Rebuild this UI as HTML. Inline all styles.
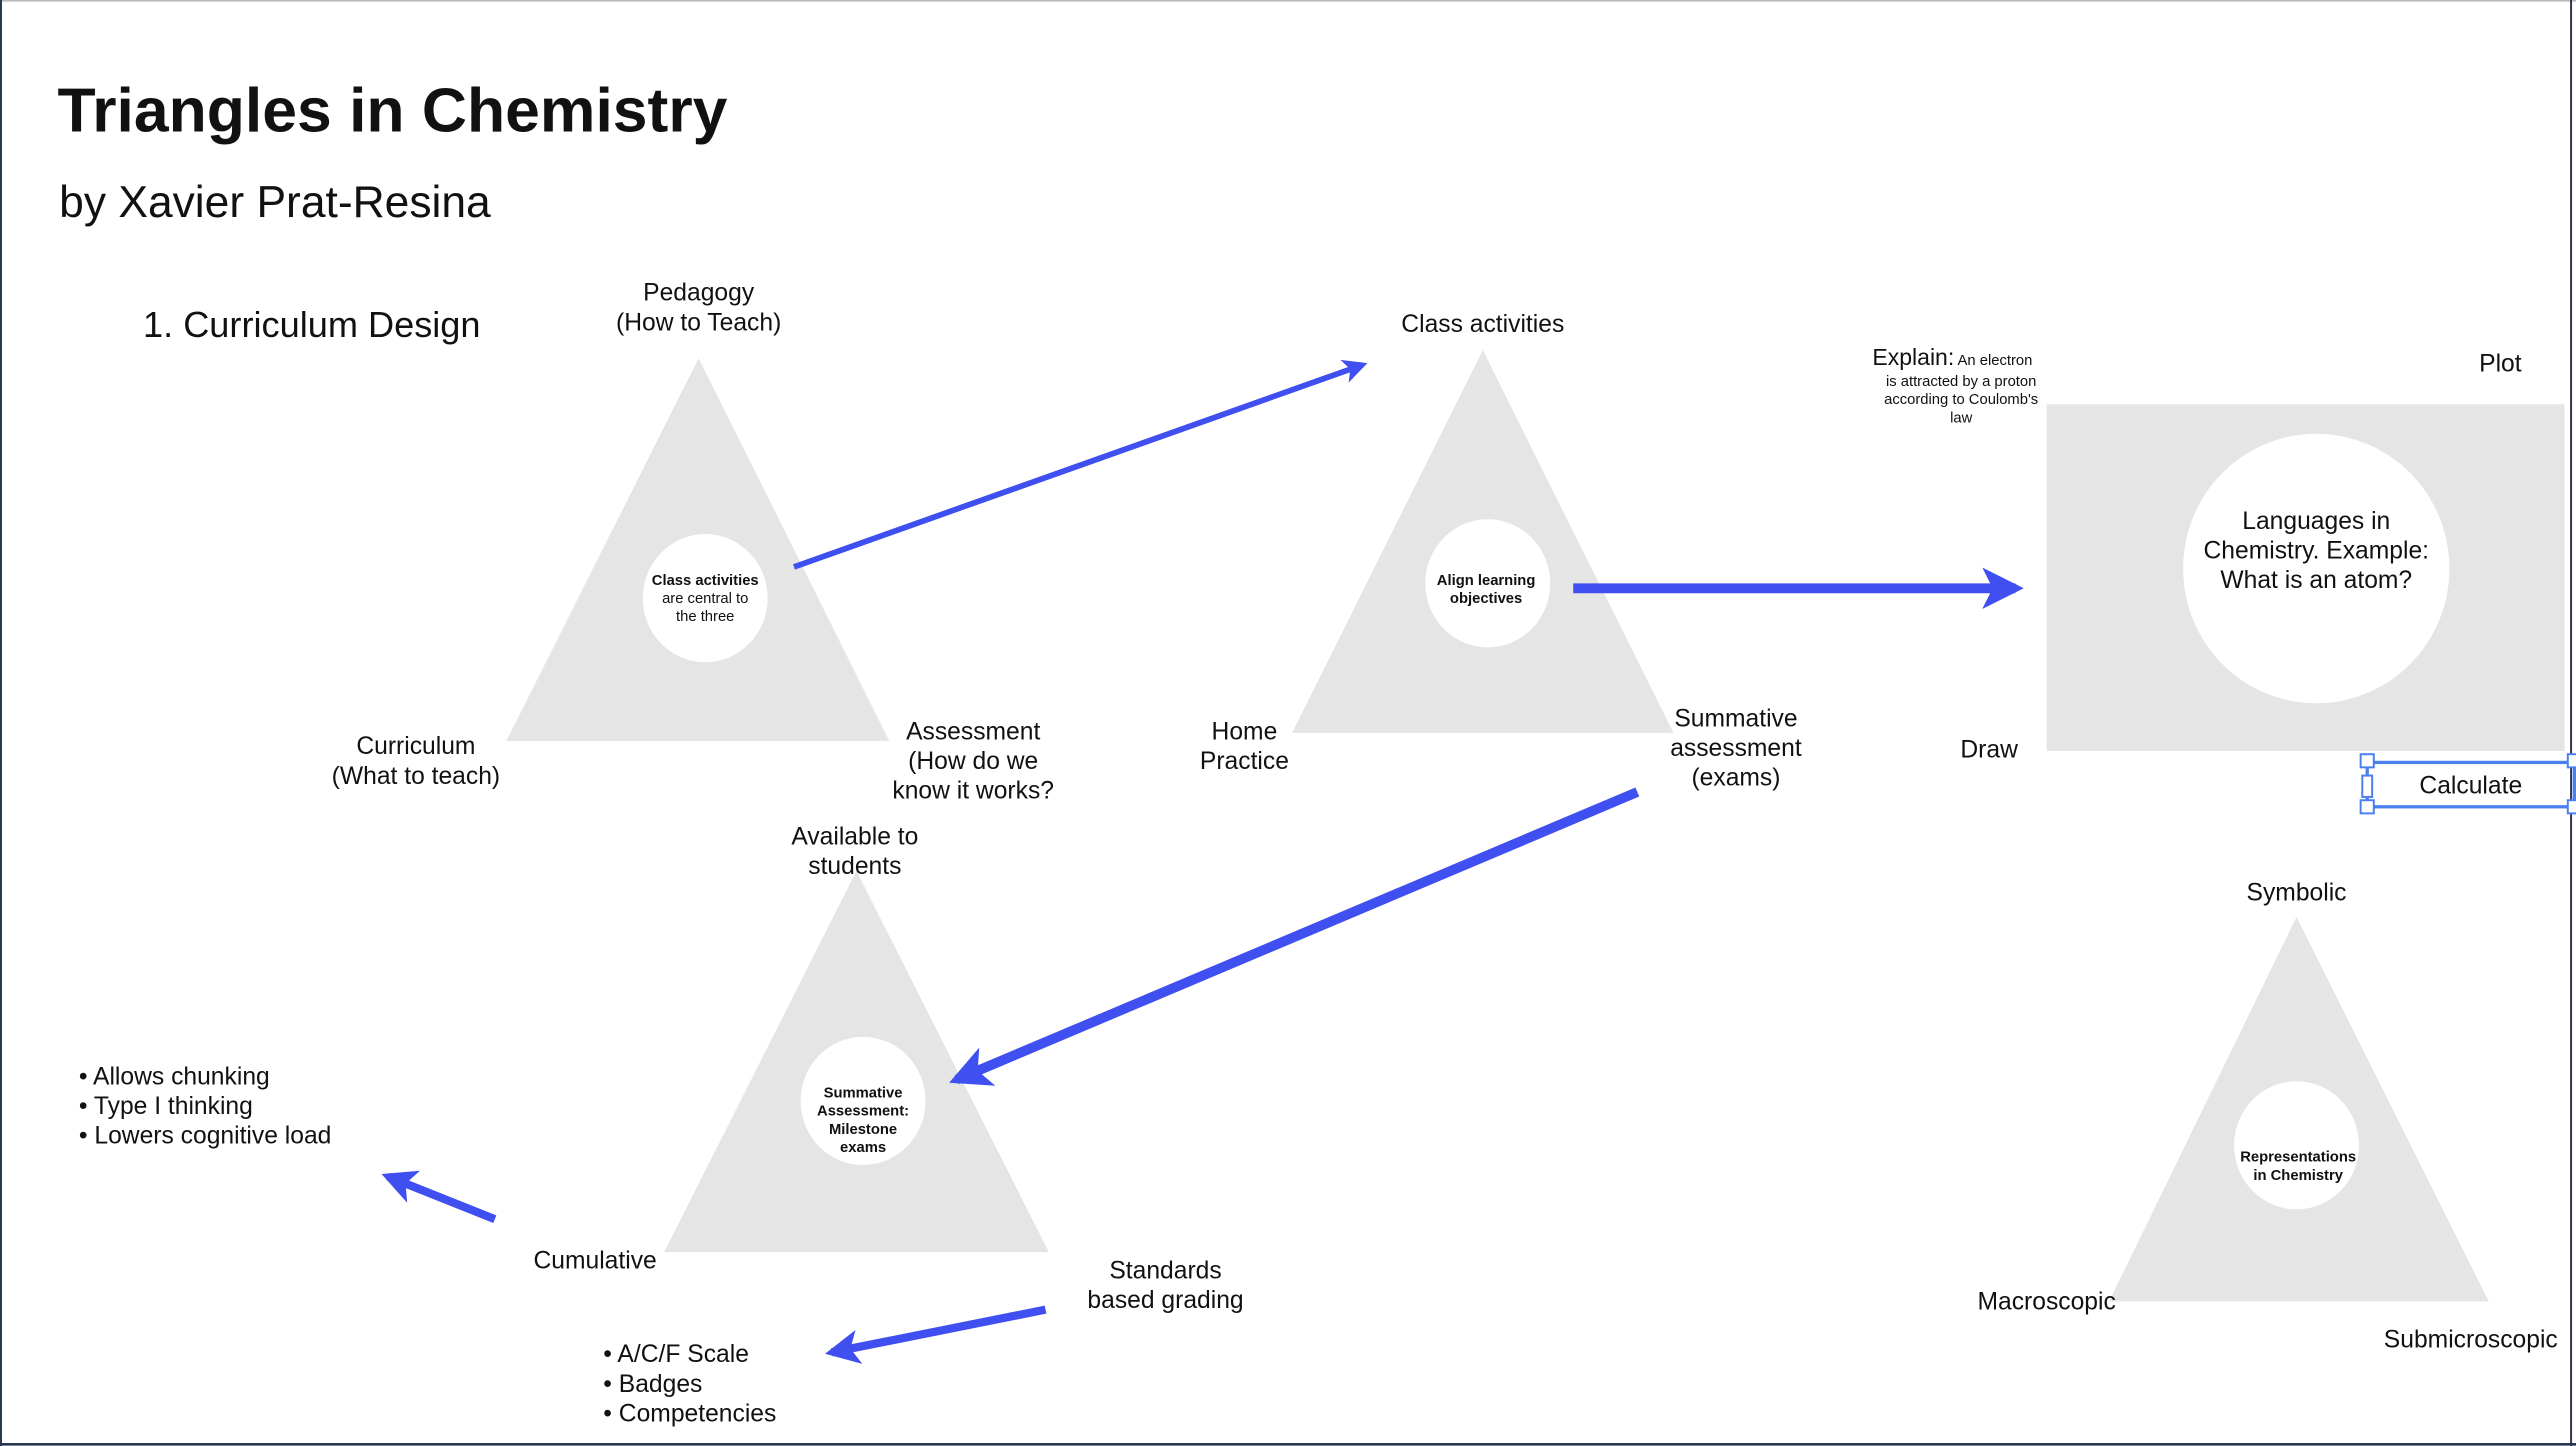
<!DOCTYPE html>
<html><head><meta charset="utf-8">
<style>
html,body{margin:0;padding:0;background:#fff;}
svg{display:block;}
text{font-family:"Liberation Sans",sans-serif;fill:#111;}
</style></head>
<body>
<svg width="2576" height="1446" viewBox="0 0 1567 880" preserveAspectRatio="none" xmlns="http://www.w3.org/2000/svg">
<defs>
<marker id="ah" viewBox="0 0 10 10" refX="8" refY="5" markerWidth="4.2" markerHeight="4.2" orient="auto" markerUnits="strokeWidth">
<path d="M0,0 L10,5 L0,10 L2.5,5 z" fill="#3f4ff0"/>
</marker>
</defs>
<rect x="0" y="0" width="1567" height="880" fill="#fff"/>
<line x1="0" y1="0.5" x2="1567" y2="0.5" stroke="#bbb" stroke-width="1"/>
<line x1="0.6" y1="0" x2="0.6" y2="880" stroke="#2a3550" stroke-width="1.2"/>
<line x1="1564" y1="0" x2="1564" y2="880" stroke="#2a3550" stroke-width="1.2"/>
<line x1="0" y1="879" x2="1567" y2="879" stroke="#2a3550" stroke-width="1.6"/>

<text x="35" y="80" font-size="38" font-weight="bold">Triangles in Chemistry</text>
<text x="36" y="132" font-size="27">by Xavier Prat-Resina</text>
<text x="87" y="205" font-size="22">1. Curriculum Design</text>

<!-- Triangle 1 -->
<polygon points="425,218 308,451 541,451" fill="#e5e5e5"/>
<ellipse cx="429" cy="364" rx="38" ry="39" fill="#fff"/>
<g font-size="9" text-anchor="middle">
<text x="429" y="356" font-weight="bold">Class activities</text>
<text x="429" y="367">are central to</text>
<text x="429" y="378">the three</text>
</g>
<g font-size="15" text-anchor="middle">
<text x="425" y="183">Pedagogy</text><text x="425" y="201">(How to Teach)</text>
<text x="253" y="459">Curriculum</text><text x="253" y="477">(What to teach)</text>
<text x="592" y="450">Assessment</text><text x="592" y="468">(How do we</text><text x="592" y="486">know it works?</text>
</g>

<!-- Triangle 2 -->
<polygon points="902,213 786,446 1018,446" fill="#e5e5e5"/>
<ellipse cx="905" cy="355" rx="38" ry="39" fill="#fff"/>
<g font-size="9" text-anchor="middle" font-weight="bold">
<text x="904" y="356">Align learning</text><text x="904" y="367">objectives</text>
</g>
<g font-size="15" text-anchor="middle">
<text x="902" y="202">Class activities</text>
<text x="757" y="450">Home</text><text x="757" y="468">Practice</text>
<text x="1056" y="442">Summative</text><text x="1056" y="460">assessment</text><text x="1056" y="478">(exams)</text>
</g>

<!-- Languages box -->
<text x="1139" y="222" font-size="14">Explain:<tspan font-size="9"> An electron</tspan></text>
<g font-size="9" text-anchor="middle">
<text x="1193" y="235">is attracted by a proton</text>
<text x="1193" y="246">according to Coulomb's</text>
<text x="1193" y="257">law</text>
</g>
<text x="1521" y="226" font-size="15" text-anchor="middle">Plot</text>
<rect x="1245" y="246" width="315" height="211" fill="#e5e5e5"/>
<ellipse cx="1409" cy="346" rx="81" ry="82" fill="#fff"/>
<g font-size="15" text-anchor="middle">
<text x="1409" y="322">Languages in</text>
<text x="1409" y="340">Chemistry. Example:</text>
<text x="1409" y="358">What is an atom?</text>
<text x="1210" y="461">Draw</text>
<text x="1503" y="483">Calculate</text>
</g>
<rect x="1440" y="464" width="126" height="27" fill="none" stroke="#4a7ff0" stroke-width="2"/>
<g fill="#fff" stroke="#4a7ff0" stroke-width="1.2">
<rect x="1436" y="459" width="8" height="8"/><rect x="1436" y="487" width="8" height="8"/>
<rect x="1437" y="472" width="6" height="13"/>
<rect x="1562" y="459" width="8" height="8"/><rect x="1562" y="487" width="8" height="8"/>
</g>

<!-- Triangle 3 -->
<polygon points="521,530 404,762 638,762" fill="#e5e5e5"/>
<ellipse cx="525" cy="670" rx="38" ry="39" fill="#fff"/>
<g font-size="9" text-anchor="middle" font-weight="bold">
<text x="525" y="668">Summative</text><text x="525" y="679">Assessment:</text><text x="525" y="690">Milestone</text><text x="525" y="701">exams</text>
</g>
<g font-size="15" text-anchor="middle">
<text x="520" y="514">Available to</text><text x="520" y="532">students</text>
<text x="362" y="772">Cumulative</text>
<text x="709" y="778">Standards</text><text x="709" y="796">based grading</text>
</g>
<g font-size="15">
<text x="48" y="660">• Allows chunking</text>
<text x="48" y="678">• Type I thinking</text>
<text x="48" y="696">• Lowers cognitive load</text>
<text x="367" y="829">• A/C/F Scale</text>
<text x="367" y="847">• Badges</text>
<text x="367" y="865">• Competencies</text>
</g>

<!-- Triangle 4 -->
<polygon points="1397,558 1283,792 1514,792" fill="#e5e5e5"/>
<ellipse cx="1397" cy="697" rx="38" ry="39" fill="#fff"/>
<g font-size="9" text-anchor="middle" font-weight="bold">
<text x="1398" y="707">Representations</text><text x="1398" y="718">in Chemistry</text>
</g>
<g font-size="15" text-anchor="middle">
<text x="1397" y="548">Symbolic</text>
<text x="1245" y="797">Macroscopic</text>
<text x="1503" y="820">Submicroscopic</text>
</g>

<!-- Arrows -->
<g stroke="#3f4ff0" fill="none" stroke-linecap="butt">
<line x1="483" y1="345" x2="829" y2="222" stroke-width="3.5" marker-end="url(#ah)"/>
<line x1="957" y1="358" x2="1226" y2="358" stroke-width="6" marker-end="url(#ah)"/>
<line x1="996" y1="482" x2="582" y2="657" stroke-width="6" marker-end="url(#ah)"/>
<line x1="301" y1="742" x2="236" y2="716" stroke-width="5" marker-end="url(#ah)"/>
<line x1="636" y1="797" x2="506" y2="823" stroke-width="5" marker-end="url(#ah)"/>
</g>
</svg>
</body></html>
